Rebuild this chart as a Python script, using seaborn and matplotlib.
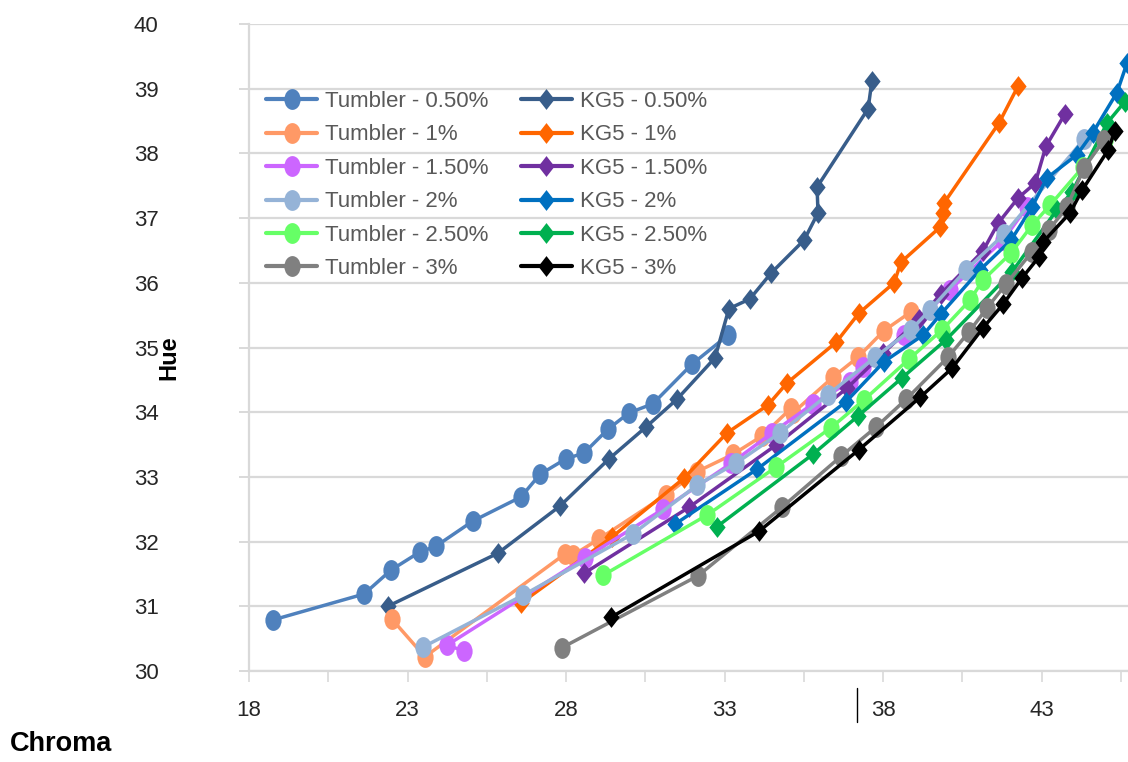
import matplotlib
matplotlib.use("Agg")
import numpy as np
import pandas as pd
import seaborn as sns
import matplotlib.pyplot as plt
from matplotlib.path import Path
from matplotlib.lines import Line2D
from matplotlib import font_manager

# ---- data: chroma (x) and hue (y) per series ----
tumbler_050_chroma = [18.76, 21.63, 22.48, 23.39, 23.90, 25.07, 26.58, 27.18, 28.00, 28.57, 29.33, 29.99, 30.74, 31.97, 33.11]
tumbler_050_hue = [30.79, 31.19, 31.56, 31.84, 31.93, 32.32, 32.69, 33.04, 33.28, 33.37, 33.74, 33.99, 34.13, 34.74, 35.19]

kg5_050_chroma = [22.38, 25.85, 27.81, 29.36, 30.52, 31.50, 32.70, 33.14, 33.80, 34.47, 35.51, 35.95, 35.92, 37.53, 37.65]
kg5_050_hue = [31.00, 31.82, 32.55, 33.28, 33.77, 34.20, 34.84, 35.60, 35.75, 36.15, 36.66, 37.08, 37.48, 38.69, 39.12]

tumbler_1_chroma = [22.51, 23.55, 27.97, 28.22, 29.04, 31.15, 32.13, 33.27, 34.18, 35.10, 35.16, 36.42, 37.21, 38.03, 38.88]
tumbler_1_hue = [30.80, 30.22, 31.81, 31.79, 32.04, 32.72, 33.08, 33.35, 33.63, 34.06, 33.99, 34.54, 34.85, 35.26, 35.55]

kg5_1_chroma = [26.58, 29.45, 31.72, 33.08, 34.37, 34.97, 36.52, 37.24, 38.35, 38.57, 39.80, 39.89, 39.92, 41.66, 42.26]
kg5_1_hue = [31.05, 32.07, 32.98, 33.68, 34.11, 34.45, 35.08, 35.53, 36.00, 36.32, 36.86, 37.08, 37.23, 38.47, 39.04]

tumbler_150_chroma = [24.78, 24.25, 28.60, 31.06, 33.21, 34.50, 35.79, 36.96, 37.37, 38.66, 40.11, 41.79, 42.54]
tumbler_150_hue = [30.31, 30.40, 31.75, 32.50, 33.21, 33.68, 34.13, 34.47, 34.70, 35.19, 35.89, 36.66, 37.17]

kg5_150_chroma = [28.57, 31.88, 34.62, 36.86, 38.00, 39.14, 39.83, 41.15, 41.63, 42.26, 42.80, 43.14, 43.74]
kg5_150_hue = [31.51, 32.53, 33.49, 34.37, 34.91, 35.44, 35.83, 36.49, 36.92, 37.31, 37.54, 38.11, 38.61]

tumbler_2_chroma = [23.49, 26.64, 30.11, 32.13, 33.36, 34.75, 36.26, 37.75, 38.88, 39.48, 40.62, 41.82, 44.34]
tumbler_2_hue = [30.37, 31.17, 32.12, 32.87, 33.21, 33.68, 34.27, 34.85, 35.27, 35.58, 36.20, 36.75, 38.22]

kg5_2_chroma = [31.44, 34.03, 36.83, 38.03, 39.26, 39.83, 41.06, 42.04, 42.70, 43.17, 44.12, 44.62, 45.38, 45.70]
kg5_2_hue = [32.27, 33.12, 34.16, 34.78, 35.19, 35.52, 36.20, 36.66, 37.17, 37.62, 37.98, 38.32, 38.94, 39.40]

tumbler_250_chroma = [29.17, 32.45, 34.62, 36.36, 37.40, 38.82, 39.86, 40.74, 41.15, 42.04, 42.70, 43.27, 44.31, 45.00]
tumbler_250_hue = [31.48, 32.41, 33.15, 33.76, 34.19, 34.82, 35.27, 35.73, 36.04, 36.46, 36.89, 37.20, 37.79, 38.21]

kg5_250_chroma = [32.76, 35.79, 37.21, 38.60, 39.99, 42.07, 43.49, 43.96, 45.07, 45.63]
kg5_250_hue = [32.23, 33.35, 33.94, 34.53, 35.12, 36.17, 37.13, 37.40, 38.47, 38.80]

tumbler_3_chroma = [27.87, 32.16, 34.81, 36.68, 37.78, 38.73, 40.05, 40.71, 41.28, 41.88, 42.70, 43.24, 43.80, 44.34, 44.97]
tumbler_3_hue = [30.36, 31.47, 32.53, 33.32, 33.77, 34.20, 34.85, 35.24, 35.61, 35.98, 36.48, 36.82, 37.17, 37.77, 38.21]

kg5_3_chroma = [29.42, 34.09, 37.24, 39.17, 40.18, 41.15, 41.79, 42.38, 42.92, 43.05, 43.90, 44.28, 45.10, 45.32]
kg5_3_hue = [30.83, 32.16, 33.42, 34.23, 34.68, 35.30, 35.67, 36.07, 36.40, 36.63, 37.08, 37.43, 38.05, 38.35]

tumbler_labels = ["Tumbler - 0.50%", "Tumbler - 1%", "Tumbler - 1.50%",
                  "Tumbler - 2%", "Tumbler - 2.50%", "Tumbler - 3%"]
kg5_labels = ["KG5 - 0.50%", "KG5 - 1%", "KG5 - 1.50%",
              "KG5 - 2%", "KG5 - 2.50%", "KG5 - 3%"]

tumbler_colors = ["#4F81BD", "#FF9966", "#CC66FF", "#95B3D7", "#66FF66", "#808080"]
kg5_colors = ["#385D8A", "#FF6600", "#7030A0", "#0070C0", "#00B050", "#000000"]

tumbler_data = [(tumbler_050_chroma, tumbler_050_hue), (tumbler_1_chroma, tumbler_1_hue),
                (tumbler_150_chroma, tumbler_150_hue), (tumbler_2_chroma, tumbler_2_hue),
                (tumbler_250_chroma, tumbler_250_hue), (tumbler_3_chroma, tumbler_3_hue)]
kg5_data = [(kg5_050_chroma, kg5_050_hue), (kg5_1_chroma, kg5_1_hue),
            (kg5_150_chroma, kg5_150_hue), (kg5_2_chroma, kg5_2_hue),
            (kg5_250_chroma, kg5_250_hue), (kg5_3_chroma, kg5_3_hue)]

# ---- long table for seaborn ----
rows = []
draw_order = []
for i in range(6):
    for lab, (cx, hy) in ((tumbler_labels[i], tumbler_data[i]), (kg5_labels[i], kg5_data[i])):
        draw_order.append(lab)
        for c, h in zip(cx, hy):
            rows.append({"Series": lab, "Chroma": c, "Hue": h})
df = pd.DataFrame(rows)

palette = dict(zip(tumbler_labels + kg5_labels, tumbler_colors + kg5_colors))

# slightly tall oval and diamond markers
circ = Path.unit_circle()
oval = Path(circ.vertices * np.array([0.78, 1.0]), circ.codes)
diamond = Path([(0, 1), (0.78, 0), (0, -1), (-0.78, 0), (0, 1)],
               [Path.MOVETO, Path.LINETO, Path.LINETO, Path.LINETO, Path.CLOSEPOLY])
markers = {lab: oval for lab in tumbler_labels}
markers.update({lab: diamond for lab in kg5_labels})

# ---- style ----
sns.set_theme(style="white")
names = {f.name for f in font_manager.fontManager.ttflist}
narrow = "Liberation Sans Narrow" if "Liberation Sans Narrow" in names else "Liberation Sans"
plt.rcParams["font.family"] = ["Liberation Sans", "DejaVu Sans"]

W, H = 1128, 762
fig = plt.figure(figsize=(W / 100, H / 100), dpi=100)
ax = fig.add_axes([249 / W, 91 / H, 1 - 249 / W, 647 / H])

sns.lineplot(data=df, x="Chroma", y="Hue", hue="Series", style="Series",
             hue_order=draw_order, style_order=draw_order, palette=palette,
             markers=markers, dashes=False, sort=False, estimator=None,
             linewidth=2.5, markersize=15, markeredgewidth=0, ax=ax, legend=False)

ax.set_xlim(18, 18 + (W - 249) / 31.7)
ax.set_ylim(30, 40)

grid_c = "#D9D9D9"
ax.set_yticks(range(30, 41))
ax.set_xticks(np.arange(18, 46, 5))
ax.set_xticks(np.arange(20.5, 46, 5), minor=True)
ax.yaxis.grid(True, color=grid_c, linewidth=1.6)
ax.xaxis.grid(False)
ax.set_axisbelow(True)
for s in ("top", "right"):
    ax.spines[s].set_visible(False)
for s in ("left", "bottom"):
    ax.spines[s].set_color(grid_c)
    ax.spines[s].set_linewidth(1.6)

ax.tick_params(axis="x", which="both", direction="out", length=8, width=1.2,
               color=grid_c, bottom=True)
ax.tick_params(axis="x", which="major", pad=13, labelsize=16, labelcolor="#262626")
ax.tick_params(axis="y", direction="out", length=7, width=1.4, color=grid_c,
               left=True, pad=58, labelsize=16, labelcolor="#262626")

ax.set_ylabel("Hue", fontsize=17, fontweight="bold", color="black")
ax.yaxis.set_label_coords(-0.0785, 0.485)
ax.set_xlabel("Chroma", fontsize=19.5, fontweight="bold", color="black")
ax.xaxis.set_label_coords(-0.214, -0.093)

# legend: Tumbler series in the first column, KG5 series in the second
handles = []
for lab in tumbler_labels + kg5_labels:
    handles.append(Line2D([], [], color=palette[lab], marker=markers[lab],
                          linewidth=3.0, markersize=15, markeredgewidth=0))
ax.legend(handles, tumbler_labels + kg5_labels, ncol=2, loc="upper left",
          bbox_to_anchor=(266 / W, 1 - 91 / H), bbox_transform=fig.transFigure,
          frameon=False, prop={"family": narrow, "size": 16}, labelcolor="#595959",
          handlelength=2.3, handletextpad=0.35, columnspacing=1.45,
          labelspacing=0.56, borderpad=0, borderaxespad=0)

# thin vertical stroke beside the 38 label
fig.add_artist(Line2D([857 / W, 857 / W], [1 - 722 / H, 1 - 688 / H],
                      transform=fig.transFigure, color="black", linewidth=1.0))

fig.savefig("out.png", dpi=100)
